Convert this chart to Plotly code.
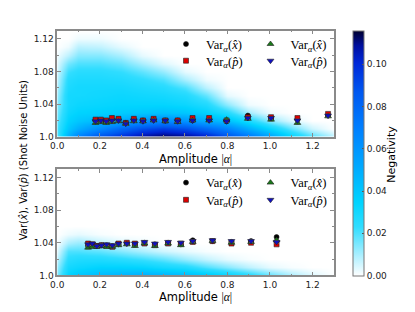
import plotly.graph_objects as go

# ---------------- data ----------------
top_amp = [0.180, 0.205, 0.230, 0.257, 0.288, 0.322, 0.360, 0.403, 0.453, 0.508,
           0.566, 0.636, 0.714, 0.796, 0.896, 1.005, 1.129, 1.273]
top_var_x_a = [1.020, 1.020, 1.019, 1.021, 1.021, 1.017, 1.021, 1.020, 1.021, 1.020,
               1.020, 1.020, 1.021, 1.019, 1.026, 1.023, 1.021, 1.026]
top_var_p_a = [1.021, 1.021, 1.020, 1.023, 1.022, 1.017, 1.022, 1.020, 1.022, 1.020,
               1.020, 1.023, 1.023, 1.020, 1.024, 1.024, 1.023, 1.028]
top_var_x_b = [1.017, 1.018, 1.017, 1.018, 1.019, 1.016, 1.019, 1.019, 1.020, 1.019,
               1.018, 1.020, 1.020, 1.021, 1.022, 1.021, 1.017, 1.025]
top_var_p_b = [1.019, 1.020, 1.019, 1.020, 1.020, 1.016, 1.020, 1.019, 1.020, 1.020,
               1.019, 1.020, 1.020, 1.019, 1.023, 1.023, 1.020, 1.026]

bot_amp = [0.145, 0.165, 0.186, 0.208, 0.232, 0.259, 0.288, 0.327, 0.365, 0.410,
           0.459, 0.521, 0.581, 0.637, 0.730, 0.819, 0.911, 1.031]
bot_var_x_a = [1.036, 1.037, 1.036, 1.037, 1.037, 1.036, 1.038, 1.039, 1.038, 1.040,
               1.038, 1.040, 1.038, 1.043, 1.042, 1.041, 1.042, 1.047]
bot_var_p_a = [1.039, 1.038, 1.036, 1.037, 1.036, 1.035, 1.039, 1.040, 1.039, 1.039,
               1.037, 1.039, 1.039, 1.041, 1.042, 1.039, 1.040, 1.038]
bot_var_x_b = [1.034, 1.035, 1.035, 1.036, 1.035, 1.035, 1.037, 1.038, 1.036, 1.039,
               1.036, 1.039, 1.037, 1.041, 1.042, 1.040, 1.041, 1.043]
bot_var_p_b = [1.038, 1.039, 1.036, 1.037, 1.038, 1.037, 1.039, 1.039, 1.039, 1.041,
               1.039, 1.041, 1.040, 1.042, 1.043, 1.042, 1.042, 1.041]
err_bar = [0.0015] * 18

# negativity maps (columns at heat_x, rows at heat_y)
heat_x = [0.0, 0.05, 0.1, 0.2, 0.3, 0.4, 0.5, 0.6, 0.7, 0.8, 0.9, 1.0, 1.1, 1.2, 1.3]
heat_y = [1.00, 1.01, 1.02, 1.03, 1.04, 1.05, 1.06, 1.07, 1.08, 1.09, 1.10, 1.11, 1.12, 1.13]
top_neg_cols = [
    [0.020, 0.020, 0.018, 0.016, 0.014, 0.012, 0.010, 0.008, 0.006, 0.004, 0.002, 0, 0, 0],
    [0.050, 0.040, 0.035, 0.032, 0.030, 0.030, 0.028, 0.026, 0.022, 0.016, 0.008, 0.002, 0, 0],
    [0.070, 0.050, 0.040, 0.035, 0.032, 0.030, 0.030, 0.028, 0.025, 0.020, 0.014, 0.008, 0.002, 0],
    [0.090, 0.065, 0.045, 0.036, 0.033, 0.031, 0.030, 0.028, 0.025, 0.020, 0.014, 0.007, 0.002, 0],
    [0.100, 0.080, 0.050, 0.038, 0.034, 0.032, 0.030, 0.027, 0.023, 0.017, 0.010, 0.003, 0, 0],
    [0.110, 0.090, 0.060, 0.040, 0.034, 0.031, 0.028, 0.024, 0.018, 0.010, 0.003, 0, 0, 0],
    [0.115, 0.095, 0.065, 0.042, 0.034, 0.030, 0.026, 0.020, 0.012, 0.004, 0, 0, 0, 0],
    [0.112, 0.090, 0.060, 0.040, 0.032, 0.027, 0.020, 0.010, 0.003, 0, 0, 0, 0, 0],
    [0.105, 0.080, 0.050, 0.035, 0.027, 0.018, 0.008, 0.002, 0, 0, 0, 0, 0, 0],
    [0.090, 0.068, 0.042, 0.026, 0.013, 0.003, 0, 0, 0, 0, 0, 0, 0, 0],
    [0.075, 0.050, 0.028, 0.011, 0.002, 0, 0, 0, 0, 0, 0, 0, 0, 0],
    [0.055, 0.033, 0.013, 0.002, 0, 0, 0, 0, 0, 0, 0, 0, 0, 0],
    [0.035, 0.018, 0.004, 0, 0, 0, 0, 0, 0, 0, 0, 0, 0, 0],
    [0.020, 0.006, 0, 0, 0, 0, 0, 0, 0, 0, 0, 0, 0, 0],
    [0.008, 0, 0, 0, 0, 0, 0, 0, 0, 0, 0, 0, 0, 0],
]
bot_neg_cols = [
    [0.015, 0.012, 0.008, 0.004, 0.001, 0, 0, 0, 0, 0, 0, 0, 0, 0],
    [0.035, 0.030, 0.025, 0.020, 0.010, 0.002, 0, 0, 0, 0, 0, 0, 0, 0],
    [0.040, 0.032, 0.027, 0.020, 0.012, 0.003, 0, 0, 0, 0, 0, 0, 0, 0],
    [0.045, 0.035, 0.027, 0.018, 0.008, 0.001, 0, 0, 0, 0, 0, 0, 0, 0],
    [0.048, 0.035, 0.025, 0.014, 0.004, 0, 0, 0, 0, 0, 0, 0, 0, 0],
    [0.050, 0.034, 0.022, 0.010, 0.002, 0, 0, 0, 0, 0, 0, 0, 0, 0],
    [0.048, 0.030, 0.018, 0.006, 0, 0, 0, 0, 0, 0, 0, 0, 0, 0],
    [0.045, 0.027, 0.012, 0.003, 0, 0, 0, 0, 0, 0, 0, 0, 0, 0],
    [0.040, 0.020, 0.007, 0.001, 0, 0, 0, 0, 0, 0, 0, 0, 0, 0],
    [0.034, 0.014, 0.003, 0, 0, 0, 0, 0, 0, 0, 0, 0, 0, 0],
    [0.027, 0.008, 0.001, 0, 0, 0, 0, 0, 0, 0, 0, 0, 0, 0],
    [0.018, 0.003, 0, 0, 0, 0, 0, 0, 0, 0, 0, 0, 0, 0],
    [0.010, 0.001, 0, 0, 0, 0, 0, 0, 0, 0, 0, 0, 0, 0],
    [0.004, 0, 0, 0, 0, 0, 0, 0, 0, 0, 0, 0, 0, 0],
    [0, 0, 0, 0, 0, 0, 0, 0, 0, 0, 0, 0, 0, 0],
]

x_tickvals = [0.0, 0.2, 0.4, 0.6, 0.8, 1.0, 1.2]
x_ticktext = ["0.0", "0.2", "0.4", "0.6", "0.8", "1.0", "1.2"]
y_tickvals = [1.0, 1.04, 1.08, 1.12]
y_ticktext = ["1.0", "1.04", "1.08", "1.12"]
cb_tickvals = [0.0, 0.02, 0.04, 0.06, 0.08, 0.10]
cb_ticktext = ["0.00", "0.02", "0.04", "0.06", "0.08", "0.10"]

label_x = "Var<sub><i>α</i></sub>(<i>x̂</i>)"
label_p = "Var<sub><i>α</i></sub>(<i>p̂</i>)"

# ---------------- figure ----------------
# page body has an 8px margin; size the figure so it fits the 415x312 window
OFF = 8
W, H = 415 - 2 * OFF, 312 - 2 * OFF
def px_x(p): return (p - OFF) / W
def px_y(p): return 1 - (p - OFF) / H

top_z = [list(r) for r in zip(*top_neg_cols)]
bot_z = [list(r) for r in zip(*bot_neg_cols)]

fig = go.Figure()
fig.add_trace(go.Heatmap(x=heat_x, y=heat_y, z=top_z, zsmooth="best",
                         coloraxis="coloraxis", xaxis="x", yaxis="y",
                         hoverinfo="skip", showlegend=False))
fig.add_trace(go.Heatmap(x=heat_x, y=heat_y, z=bot_z, zsmooth="best",
                         coloraxis="coloraxis", xaxis="x2", yaxis="y2",
                         hoverinfo="skip", showlegend=False))

series = [
    ("circle", "black", label_x),
    ("square", "#dd0000", label_p),
    ("triangle-up", "#1a7a1a", label_x),
    ("triangle-down", "#1010c0", label_p),
]
top_vals = [top_var_x_a, top_var_p_a, top_var_x_b, top_var_p_b]
bot_vals = [bot_var_x_a, bot_var_p_a, bot_var_x_b, bot_var_p_b]
sizes = [5, 5, 6, 6]

leg_cols = [181.7, 181.7, 267.7, 267.7]
top_rows = [45, 62, 45, 62]
bot_rows = [186, 203.5, 186, 203.5]

legend_layout = {}
for i, ((sym, col, lab), tv, bv) in enumerate(zip(series, top_vals, bot_vals)):
    for panel, (xs, ys, xa, ya, rows) in enumerate([
            (top_amp, tv, "x", "y", top_rows),
            (bot_amp, bv, "x2", "y2", bot_rows)]):
        lname = "legend" if (i == 0 and panel == 0) else "legend%d" % (i * 2 + panel + 1)
        fig.add_trace(go.Scatter(
            x=xs, y=ys, mode="markers", name=lab, xaxis=xa, yaxis=ya,
            marker=dict(symbol=sym, color=col, size=sizes[i],
                        line=dict(color="#222222", width=0.6)),
            error_y=dict(type="data", array=err_bar, color="#888888",
                         thickness=1, width=2),
            legend=lname, showlegend=True))
        legend_layout[lname] = dict(
            x=px_x(leg_cols[i] - 20), y=px_y(rows[i]), xanchor="left", yanchor="middle",
            bgcolor="rgba(0,0,0,0)", borderwidth=0,
            font=dict(family="Liberation Serif", size=12.5, color="black"),
            itemwidth=30)

axis_common = dict(
    showline=True, linecolor="#8a8a8a", linewidth=1.5, mirror="allticks",
    ticks="inside", ticklen=4, tickcolor="#8a8a8a", tickwidth=1,
    showgrid=False, zeroline=False,
    tickfont=dict(family="DejaVu Sans", size=9, color="#222"),
)
xdom = [px_x(51), px_x(332.5)]
xaxis_kw = dict(axis_common, range=[0, 1.3], tickvals=x_tickvals, ticktext=x_ticktext,
                domain=xdom,
                minor=dict(tickvals=[0.1, 0.3, 0.5, 0.7, 0.9, 1.1], ticklen=2,
                           tickcolor="#8a8a8a", ticks="inside"),
                title=dict(text="Amplitude <span style='font-family:Liberation Serif'>|<i>α</i>|</span>",
                           font=dict(family="DejaVu Sans", size=11.5, color="black"),
                           standoff=5))
yaxis_kw = dict(axis_common, range=[1.0, 1.13], tickvals=y_tickvals, ticktext=y_ticktext,
                minor=dict(tickvals=[1.02, 1.06, 1.10], ticklen=2,
                           tickcolor="#8a8a8a", ticks="inside"))

fig.update_layout(
    width=W, height=H, margin=dict(l=0, r=0, t=0, b=0),
    paper_bgcolor="white", plot_bgcolor="white",
    xaxis=dict(xaxis_kw, anchor="y"),
    yaxis=dict(yaxis_kw, domain=[px_y(139), px_y(31)], anchor="x"),
    xaxis2=dict(xaxis_kw, anchor="y2"),
    yaxis2=dict(yaxis_kw, domain=[px_y(280), px_y(172)], anchor="x2"),
    coloraxis=dict(
        cmin=0, cmax=0.116,
        colorscale=[[0, "#ffffff"], [0.08, "#b0f0ff"], [0.2, "#30ddff"],
                    [0.3, "#00d4ff"], [0.45, "#00a8ff"], [0.6, "#0080ff"],
                    [0.75, "#0058f0"], [0.87, "#0028d8"], [0.94, "#0010a0"],
                    [1, "#000030"]],
        colorbar=dict(x=px_x(352), xanchor="left", xpad=0, ypad=0,
                      y=px_y(155.5), yanchor="middle", len=249 / H, lenmode="fraction",
                      thickness=11, outlinecolor="#777", outlinewidth=1,
                      tickvals=cb_tickvals, ticktext=cb_ticktext, ticks="inside",
                      ticklen=2, tickcolor="#555",
                      tickfont=dict(family="DejaVu Sans", size=9, color="#222"))),
    annotations=[
        dict(text="Var(<i>x̂</i>), Var(<i>p̂</i>) (Shot Noise Units)", textangle=-90,
             x=px_x(17), y=px_y(163), xref="paper", yref="paper", showarrow=False,
             xanchor="center", yanchor="middle",
             font=dict(family="DejaVu Sans", size=10, color="black")),
        dict(text="Negativity", textangle=-90,
             x=px_x(391), y=px_y(157), xref="paper", yref="paper", showarrow=False,
             xanchor="center", yanchor="middle",
             font=dict(family="DejaVu Sans", size=11, color="black")),
    ],
    **legend_layout,
)

fig.write_html("out.html")
